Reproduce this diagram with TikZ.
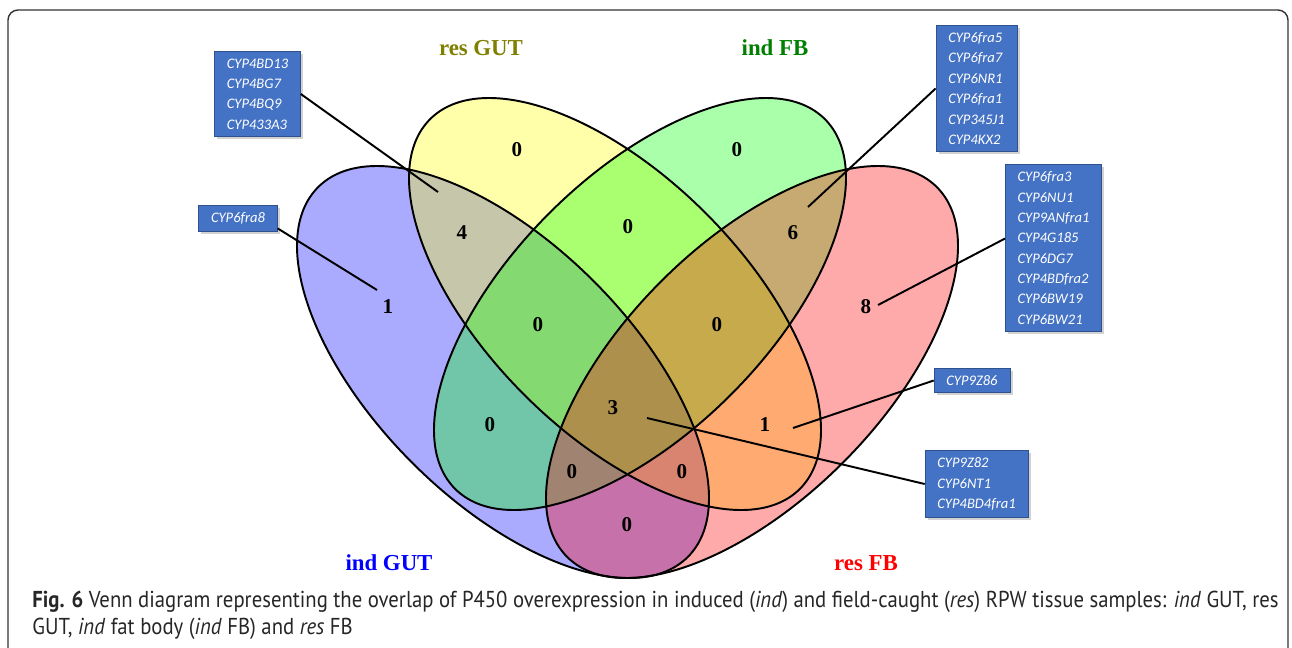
\documentclass[tikz,border=0pt]{standalone}
\usepackage{fontspec}
\setmainfont{Liberation Serif}
\newfontfamily\cajafont{Carlito}
\newfontfamily\piefont{PT Sans}[FakeStretch=0.9]
\usepackage{tikz}
\usetikzlibrary{shadows}
\definecolor{azul}{RGB}{0,0,255}
\definecolor{amarillo}{RGB}{255,255,0}
\definecolor{verde}{RGB}{0,255,0}
\definecolor{rojo}{RGB}{255,0,0}
\definecolor{caja}{RGB}{68,114,196}
\definecolor{cajaborde}{RGB}{47,82,143}
\definecolor{oliva}{RGB}{128,128,0}
\definecolor{verdeosc}{RGB}{0,128,0}
\tikzset{
	x=0.02cm, y=0.02cm, % Un pixel de la figura original
	conjunto/.style={fill opacity=0.333}, % Relleno transparente de las elipses
	contorno/.style={line width=1.1pt}, % Borde negro de las elipses
	num/.style={font=\fontsize{12}{14}\selectfont\bfseries}, % Numero de cada region
	titulo/.style={font=\fontsize{13}{15}\selectfont\bfseries}, % Nombre de cada conjunto
	gen/.style={draw=cajaborde, fill=caja, text=white, align=left,
		font=\cajafont\itshape\fontsize{8.3}{11.6}\selectfont,
		inner xsep=7pt, inner ysep=4pt,
		drop shadow={shadow xshift=1.5pt, shadow yshift=-1.5pt, opacity=0.35}}, % Cajas con los genes
	linea/.style={line width=1.1pt} % Lineas hacia las cajas
}

\begin{document}
\begin{tikzpicture}
	\useasboundingbox (0,0) rectangle (1292,-647);
	\fill[white] (0,0) rectangle (1292,-647);
	\draw[black!80, line width=0.8pt, rounded corners=0.2cm] (8,-680) |- (1288,-10) -- (1288,-680);

	\fill[azul, conjunto, rotate around={-45:(503,-372)}] (503,-372) ellipse (5.23cm and 2.568cm);
	\fill[amarillo, conjunto, rotate around={-45:(615,-304)}] (615,-304) ellipse (5.23cm and 2.568cm);
	\fill[verde, conjunto, rotate around={45:(640,-304)}] (640,-304) ellipse (5.23cm and 2.568cm);
	\fill[rojo, conjunto, rotate around={45:(752,-372)}] (752,-372) ellipse (5.23cm and 2.568cm);
	\draw[contorno, rotate around={-45:(503,-372)}] (503,-372) ellipse (5.23cm and 2.568cm);
	\draw[contorno, rotate around={-45:(615,-304)}] (615,-304) ellipse (5.23cm and 2.568cm);
	\draw[contorno, rotate around={45:(640,-304)}] (640,-304) ellipse (5.23cm and 2.568cm);
	\draw[contorno, rotate around={45:(752,-372)}] (752,-372) ellipse (5.23cm and 2.568cm);

	\node[titulo, text=oliva] (tY) at (481,-48) {res GUT};
	\node[titulo, text=verdeosc] (tG) at (775,-48) {ind FB};
	\node[titulo, text=azul] (tB) at (389,-563) {ind GUT};
	\node[titulo, text=rojo] (tR) at (866,-563) {res FB};

	\node[num] (y0) at (517,-150) {0};
	\node[num] (g0) at (737,-150) {0};
	\node[num] (by) at (462,-233) {4};
	\node[num] (yg) at (628,-227) {0};
	\node[num] (gr) at (793,-233) {6};
	\node[num] (b1) at (388,-307) {1};
	\node[num] (byg) at (538,-325) {0};
	\node[num] (ygr) at (717,-325) {0};
	\node[num] (r8) at (866,-307) {8};
	\node[num] (bg) at (490,-425) {0};
	\node[num] (todos) at (613,-408) {3};
	\node[num] (yr) at (765,-425) {1};
	\node[num] (bgr) at (572,-472) {0};
	\node[num] (byr) at (682,-472) {0};
	\node[num] (br) at (627,-525) {0};

	\coordinate (pA) at (438,-192);
	\coordinate (pB) at (377,-290);
	\coordinate (pC) at (808,-207);
	\coordinate (pD) at (878,-305);
	\coordinate (pE) at (793,-428);
	\coordinate (pF) at (647,-418);

	\node[gen] (gA) at (257.5,-94) {CYP4BD13\\CYP4BG7\\CYP4BQ9\\CYP433A3};
	\node[gen] (gB) at (238,-218.5) {CYP6fra8};
	\node[gen] (gC) at (976.5,-88.5) {CYP6fra5\\CYP6fra7\\CYP6NR1\\CYP6fra1\\CYP345J1\\CYP4KX2};
	\node[gen] (gD) at (1053.5,-248) {CYP6fra3\\CYP6NU1\\CYP9ANfra1\\CYP4G185\\CYP6DG7\\CYP4BDfra2\\CYP6BW19\\CYP6BW21};
	\node[gen] (gE) at (972,-380.5) {CYP9Z86};
	\node[gen] (gF) at (976.5,-484) {CYP9Z82\\CYP6NT1\\CYP4BD4fra1};

	\draw[linea] (gA.east) -- (pA);
	\draw[linea] (gB.346) -- (pB);
	\draw[linea] (gC.west) -- (pC);
	\draw[linea] (gD.169) -- (pD);
	\draw[linea] (gE.west) -- (pE);
	\draw[linea] (gF.west) -- (pF);

	\node[anchor=base west, align=left, inner sep=0pt, text=black!85,
		font=\piefont\fontsize{13.1}{15.3}\selectfont] (pie) at (32,-634)
		{\textbf{Fig. 6} Venn diagram representing the overlap of P450 overexpression in induced (\textit{ind}) and field-caught (\textit{res}) RPW tissue samples: \textit{ind} GUT, res\\
		GUT, \textit{ind} fat body (\textit{ind} FB) and \textit{res} FB};
\end{tikzpicture}
\end{document}
